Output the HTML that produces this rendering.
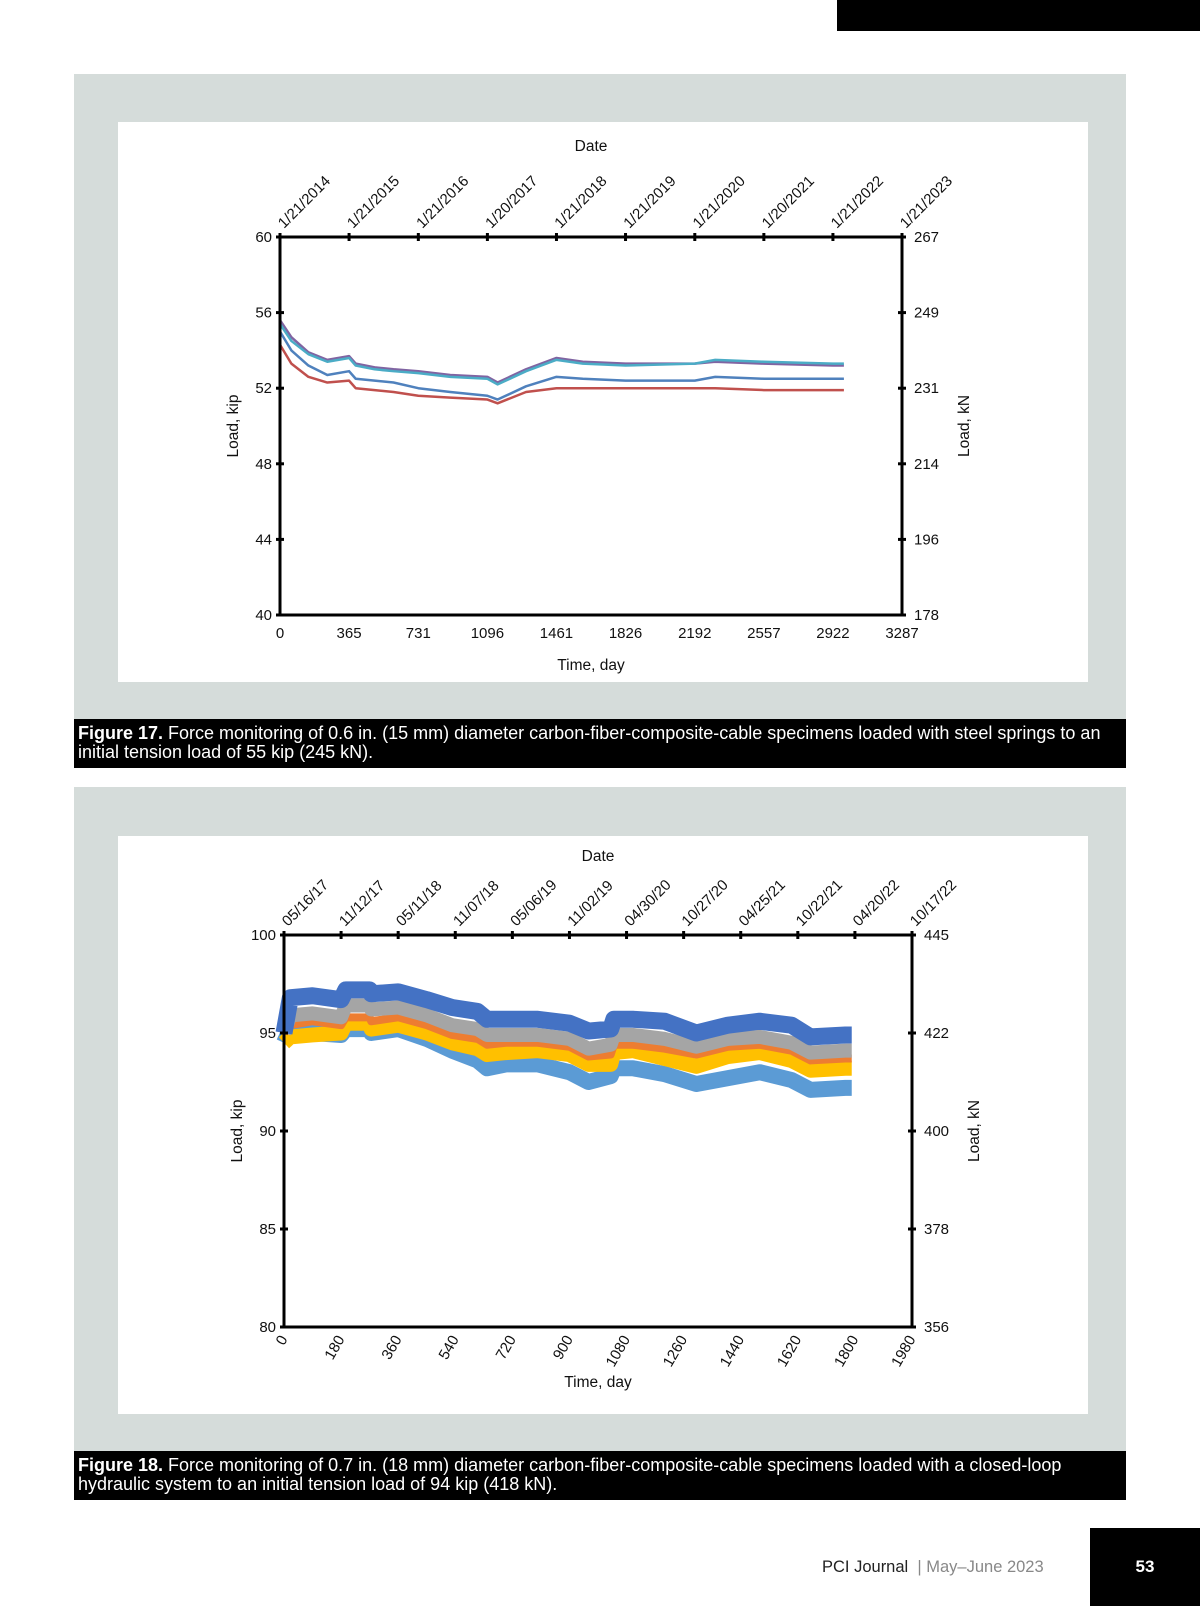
<!DOCTYPE html>
<html><head><meta charset="utf-8"><style>
html,body{margin:0;padding:0;background:#fff;}
body{width:1200px;height:1606px;position:relative;overflow:hidden;font-family:"Liberation Sans",sans-serif;}
.abs{position:absolute;}
.cap{background:#000;color:#fff;font-size:18px;line-height:19px;padding:5px 4px;box-sizing:border-box;}
</style></head><body>
<div class="abs" style="left:837px;top:0;width:363px;height:31px;background:#000"></div>
<div class="abs" style="left:74px;top:74px;width:1052px;height:645px;background:#d5dcda"></div>
<div class="abs" style="left:118px;top:122px;width:970px;height:560px;background:#fff"></div>
<div class="abs cap" style="left:74px;top:719px;width:1052px;height:49px"><b>Figure 17.</b> Force monitoring of 0.6 in. (15 mm) diameter carbon-fiber-composite-cable specimens loaded with steel springs to an initial tension load of 55 kip (245 kN).</div>
<div class="abs" style="left:74px;top:787px;width:1052px;height:664px;background:#d5dcda"></div>
<div class="abs" style="left:118px;top:836px;width:970px;height:578px;background:#fff"></div>
<div class="abs cap" style="left:74px;top:1451px;width:1052px;height:49px"><b>Figure 18.</b> Force monitoring of 0.7 in. (18 mm) diameter carbon-fiber-composite-cable specimens loaded with a closed-loop hydraulic system to an initial tension load of 94 kip (418 kN).</div>
<div class="abs" style="left:822px;top:1558px;font-size:16.5px;color:#222">PCI Journal &nbsp;<span style="color:#888">| May–June 2023</span></div>
<div class="abs" style="left:1090px;top:1528px;width:110px;height:78px;background:#000;color:#fff;font-weight:bold;font-size:17px;text-align:center;line-height:78px">53</div>
<svg id="svg" class="abs" style="left:0;top:0" width="1200" height="1606"></svg>
<script>
// ---- Figure 17 data ----
const c1Days=[0,60,150,250,365,400,500,600,731,900,1096,1150,1300,1461,1600,1826,2192,2300,2557,2922,2980];
const c1Purple=[55.6,54.7,53.9,53.5,53.7,53.3,53.1,53.0,52.9,52.7,52.6,52.3,53.0,53.6,53.4,53.3,53.3,53.4,53.3,53.2,53.2];
const c1Cyan=[55.4,54.5,53.8,53.4,53.6,53.2,53.0,52.9,52.8,52.6,52.5,52.2,52.9,53.5,53.3,53.2,53.3,53.5,53.4,53.3,53.3];
const c1Blue=[55.0,54.0,53.2,52.7,52.9,52.5,52.4,52.3,52.0,51.8,51.6,51.4,52.1,52.6,52.5,52.4,52.4,52.6,52.5,52.5,52.5];
const c1Red=[54.3,53.3,52.6,52.3,52.4,52.0,51.9,51.8,51.6,51.5,51.4,51.2,51.8,52.0,52.0,52.0,52.0,52.0,51.9,51.9,51.9];
const c1XTicks=[0,365,731,1096,1461,1826,2192,2557,2922,3287];
const c1Dates=["1/21/2014","1/21/2015","1/21/2016","1/20/2017","1/21/2018","1/21/2019","1/21/2020","1/20/2021","1/21/2022","1/21/2023"];
const c1YTicks=[60,56,52,48,44,40];
const c1KN=["267","249","231","214","196","178"];
// ---- Figure 18 data ----
const c2Days=[0,20,90,180,195,270,275,360,450,530,610,640,700,800,900,960,1030,1040,1100,1200,1300,1400,1500,1600,1660,1770,1790];
const c2DarkBlue=[95.0,96.8,96.9,96.7,97.2,97.2,97.0,97.1,96.7,96.3,96.1,95.7,95.7,95.7,95.5,95.1,95.2,95.7,95.7,95.6,95.0,95.4,95.6,95.4,94.8,94.9,94.9];
const c2Gray=[95.0,95.9,96.0,95.8,96.4,96.4,96.2,96.3,95.9,95.4,95.2,94.9,94.9,94.9,94.7,94.2,94.4,94.9,94.9,94.7,94.3,94.7,94.8,94.5,94.0,94.1,94.1];
const c2Orange=[95.0,95.4,95.6,95.4,95.8,95.8,95.6,95.8,95.4,94.9,94.7,94.4,94.5,94.5,94.3,93.8,93.9,94.4,94.4,94.2,93.9,94.3,94.4,94.1,93.6,93.7,93.7];
const c2LightBlue=[94.5,95.2,95.0,94.9,95.2,95.2,95.0,95.2,94.7,94.1,93.6,93.2,93.4,93.4,93.0,92.5,92.8,93.2,93.2,92.9,92.4,92.7,93.0,92.6,92.1,92.2,92.2];
const c2Yellow=[94.5,94.8,94.9,95.0,95.5,95.5,95.2,95.4,95.0,94.5,94.2,93.9,94.0,94.1,93.9,93.4,93.4,94.0,94.1,93.7,93.3,93.8,94.0,93.6,93.1,93.2,93.2];
const c2XTicks=[0,180,360,540,720,900,1080,1260,1440,1620,1800,1980];
const c2Dates=["05/16/17","11/12/17","05/11/18","11/07/18","05/06/19","11/02/19","04/30/20","10/27/20","04/25/21","10/22/21","04/20/22","10/17/22"];
const c2YTicks=[100,95,90,85,80];
const c2KN=["445","422","400","378","356"];

const NS="http://www.w3.org/2000/svg";
const svg=document.getElementById('svg');
function mk(tag,attrs,parent){const e=document.createElementNS(NS,tag);for(const k in attrs)e.setAttribute(k,attrs[k]);(parent||svg).appendChild(e);return e;}
function txt(x,y,s,size,anchor,rot){const t=mk('text',{x:x,y:y,'font-size':size,'text-anchor':anchor||'middle','font-family':'Liberation Sans, sans-serif',fill:'#111'});if(rot)t.setAttribute('transform','rotate('+rot+' '+x+' '+y+')');t.textContent=s;return t;}

function chart(o){
  const sx=d=>o.x0+(d-o.dmin)/(o.dmax-o.dmin)*(o.x1-o.x0);
  const sy=v=>o.y1-(v-o.vmin)/(o.vmax-o.vmin)*(o.y1-o.y0);
  o.series.forEach(s=>{
    const p=mk('polyline',{points:o.days.map((d,i)=>sx(d)+','+sy(s.v[i])).join(' '),fill:'none',stroke:s.c,'stroke-width':s.w,'stroke-linejoin':'round'});
    
    
  });
  const box=mk('rect',{x:o.x0,y:o.y0,width:o.x1-o.x0,height:o.y1-o.y0,fill:'none',stroke:'#000','stroke-width':3});
  
  
  o.xt.forEach((d,i)=>{
    const x=sx(d);
    mk('line',{x1:x,y1:o.y0-4,x2:x,y2:o.y0+4,stroke:'#000','stroke-width':3});
    const t=txt(x+4,o.y0-8,o.dates[i],15,'start',-45);
    
    
    let b;
    if(o.rotBottom){b=txt(x+4,o.y1+12,String(d),15,'end',-60);}
    else{b=txt(x,o.y1+23,String(d),15,'middle');}
    
    
  });
  o.yt.forEach((v,i)=>{
    const y=sy(v);
    mk('line',{x1:o.x0-4,y1:y,x2:o.x0+4,y2:y,stroke:'#000','stroke-width':3});
    mk('line',{x1:o.x1-4,y1:y,x2:o.x1+4,y2:y,stroke:'#000','stroke-width':3});
    const l=txt(o.x0-8,y+5,String(v),15,'end');
    
    
    const r=txt(o.x1+12,y+5,o.kn[i],15,'start');
    
    
  });
  const dt=txt((o.x0+o.x1)/2,o.dateY,'Date',15.5);
  
  
  const tt=txt((o.x0+o.x1)/2,o.timeY,'Time, day',15.5);
  
  
  const lk=txt(o.x0-42,(o.y0+o.y1)/2,'Load, kip',15.5,'middle',-90);
  
  
  const rk=txt(o.x1+67,(o.y0+o.y1)/2,'Load, kN',15.5,'middle',-90);
  
  
}
chart({id:'fig17',x0:280,x1:902,y0:237,y1:615,dmin:0,dmax:3287,vmin:40,vmax:60,days:c1Days,
  series:[{name:'series-red',v:c1Red,c:'#c0504d',w:2.5},{name:'series-blue',v:c1Blue,c:'#4f81bd',w:2.5},{name:'series-purple',v:c1Purple,c:'#8064a2',w:2.5},{name:'series-cyan',v:c1Cyan,c:'#4bacc6',w:2.5}],
  xt:c1XTicks,dates:c1Dates,yt:c1YTicks,kn:c1KN,rotBottom:false,dateY:151,timeY:670});
chart({id:'fig18',x0:284,x1:912,y0:935,y1:1327,dmin:0,dmax:1980,vmin:80,vmax:100,days:c2Days,
  series:[{name:'series-light-blue',v:c2LightBlue,c:'#5b9bd5',w:16},{name:'series-yellow',v:c2Yellow,c:'#ffc000',w:15},{name:'series-orange',v:c2Orange,c:'#ed7d31',w:8},{name:'series-gray',v:c2Gray,c:'#a5a5a5',w:14},{name:'series-dark-blue',v:c2DarkBlue,c:'#4472c4',w:17}],
  xt:c2XTicks,dates:c2Dates,yt:c2YTicks,kn:c2KN,rotBottom:true,dateY:861,timeY:1387});
</script>
</body></html>
